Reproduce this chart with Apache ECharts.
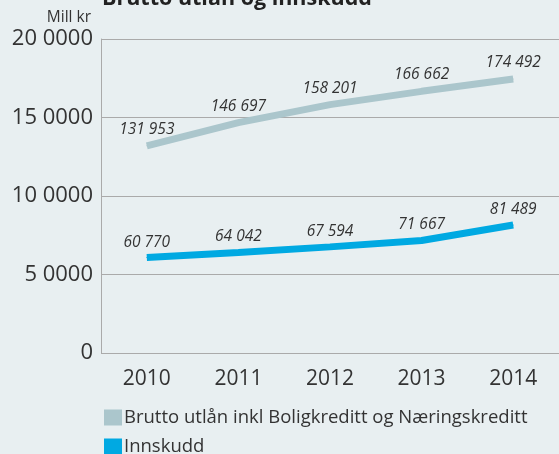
<!DOCTYPE html>
<html>
<head>
<meta charset="utf-8">
<script src="https://cdn.jsdelivr.net/npm/echarts@6/dist/echarts.min.js"></script>
<style>
  html, body { margin: 0; padding: 0; background: #e8eff1; }
  #main { width: 559px; height: 454px; }
</style>
</head>
<body>
<div id="main"></div>
<script>
// Brutto utlån og innskudd, mill kr
const years = ['2010', '2011', '2012', '2013', '2014']
const utlan = [131953, 146697, 158201, 166662, 174492]
const innskudd = [60770, 64042, 67594, 71667, 81489]
const seriesNames = ['Brutto utlån inkl Boligkreditt og Næringskreditt', 'Innskudd']

const fmtNum = (v) => String(v).replace(/\B(?=(\d{3})+(?!\d))/g, ' ')
// aksen i originalen er merket "20 0000" osv.
const fmtAxis = (v) => (v === 0 ? '0' : (v / 10000) + ' 0000')

const font = 'Open Sans'
const chart = echarts.init(document.getElementById('main'))

const legendBase = {
  left: 99,
  itemWidth: 18,
  itemHeight: 16,
  icon: 'rect',
  textStyle: { fontFamily: font, fontSize: 18.5, color: '#333', padding: [0, 0, 0, -3] }
}

const labelStyle = {
  show: true,
  position: 'top',
  formatter: (p) => fmtNum(p.value),
  fontFamily: font,
  fontStyle: 'italic',
  fontSize: 15.5,
  color: '#333'
}

const option = {
  backgroundColor: '#e8eff1',
  animation: false,
  textStyle: { fontFamily: font },
  title: {
    text: 'Brutto utlån og innskudd',
    left: 97,
    top: -17,
    textStyle: { fontFamily: font, fontSize: 21.5, fontWeight: 'bold', color: '#222' }
  },
  legend: [
    { ...legendBase, top: 403, data: [seriesNames[0]] },
    { ...legendBase, top: 432, data: [seriesNames[1]] }
  ],
  grid: { left: 101, top: 39, width: 467, height: 314, containLabel: false },
  xAxis: {
    type: 'category',
    data: years,
    boundaryGap: true,
    axisLine: { show: false },
    axisTick: { show: false },
    axisLabel: { fontFamily: font, fontSize: 21, color: '#333', margin: 16 }
  },
  yAxis: {
    type: 'value',
    min: 0,
    max: 200000,
    interval: 50000,
    name: 'Mill kr',
    nameLocation: 'end',
    nameGap: 13,
    nameTextStyle: { fontFamily: font, fontSize: 15.5, color: '#333', align: 'right', padding: [0, 10, 0, 0] },
    axisLine: { show: true, lineStyle: { color: '#aaaaaa', width: 1 } },
    axisTick: { show: false },
    splitLine: { lineStyle: { color: '#aaaaaa', width: 1 } },
    axisLabel: { fontFamily: font, fontSize: 22, color: '#333', margin: 8, formatter: fmtAxis }
  },
  series: [
    {
      name: seriesNames[0],
      type: 'line',
      data: utlan,
      symbol: 'circle',
      symbolSize: 1,
      color: '#abc6cc',
      lineStyle: { color: '#abc6cc', width: 7, cap: 'butt' },
      label: { ...labelStyle, distance: 8 }
    },
    {
      name: seriesNames[1],
      type: 'line',
      data: innskudd,
      symbol: 'circle',
      symbolSize: 1,
      color: '#00a9e2',
      lineStyle: { color: '#00a9e2', width: 7, cap: 'butt' },
      label: { ...labelStyle, distance: 7 }
    }
  ]
}

option && chart.setOption(option)
</script>
</body>
</html>
